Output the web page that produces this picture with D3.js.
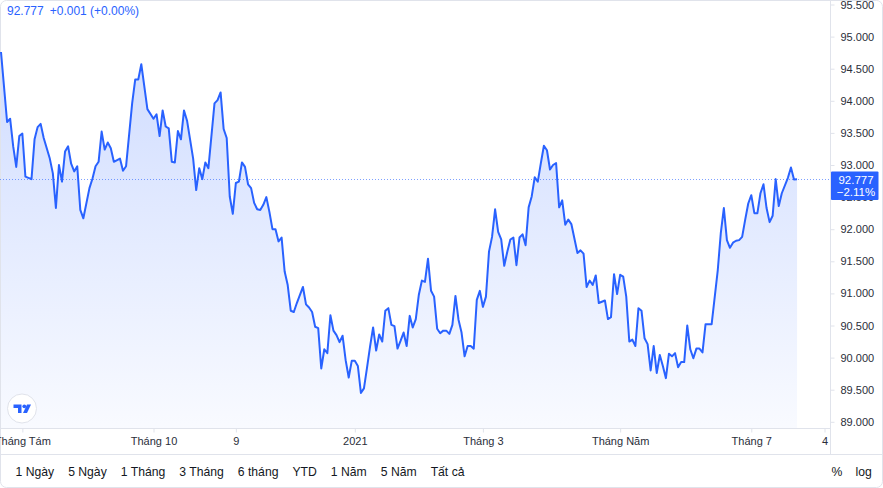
<!DOCTYPE html>
<html>
<head>
<meta charset="utf-8">
<script src="https://cdn.jsdelivr.net/npm/d3@7"></script>
<style>
  html, body { margin: 0; padding: 0; background: #ffffff; }
  svg { display: block; font-family: "Liberation Sans", Arial, sans-serif; }
</style>
</head>
<body>
<svg id="chart" width="883" height="488"></svg>
<script>
// ---- data (trading-day index, close value) ----
const days = [0,2,3,4,5,6,7,8,10,11,12,13,14,16,17,18,19,20,21,22,23,24,25,26,27,29,30,31,32,33,34,35,36,37,39,40,41,43,44,45,46,48,50,51,52,53,54,55,56,57,58,59,60,61,63,64,65,66,67,68,70,71,72,73,74,75,76,77,78,79,80,81,82,83,84,85,86,87,88,89,90,91,92,93,94,95,96,97,99,100,101,102,103,104,105,106,107,108,109,110,111,112,113,114,115,116,117,118,119,120,121,122,123,124,125,126,127,128,129,130,131,132,133,134,135,136,137,138,139,140,141,142,143,144,145,146,147,148,149,150,151,152,153,154,155,156,157,158,159,160,161,162,163,164,165,166,167,168,169,170,171,172,173,174,175,176,177,178,179,180,181,182,183,184,185,186,187,189,190,191,192,193,194,195,196,198,199,200,201,202,203,204,205,206,207,208,209,210,211,212,213,214,215,216,217,218,219,220,221,222,223,224,225,226,227,228,229,230,231,233,235,236,237,238,239,240,241,242,243,244,245,246,247,248,249,250,251,252,253,254,255,256,258,259,260,261];
const values = [94.76,93.67,93.72,93.29,92.97,93.45,93.49,92.82,92.78,93.40,93.59,93.64,93.42,93.10,92.87,92.33,93.00,92.74,93.21,93.29,93.02,92.90,92.98,92.30,92.17,92.64,92.79,92.98,93.05,93.52,93.24,93.35,93.26,93.05,93.10,92.91,92.98,93.96,94.33,94.33,94.57,93.87,93.72,93.79,93.45,93.85,93.60,93.57,93.05,93.04,93.53,93.40,93.85,93.69,93.10,92.61,92.95,92.78,93.04,92.95,93.96,94.01,94.13,93.56,93.42,92.51,92.24,92.72,92.74,93.04,92.97,92.70,92.64,92.41,92.31,92.30,92.38,92.50,92.27,92.00,92.00,91.81,91.87,91.34,91.13,90.73,90.71,90.85,91.10,90.83,90.78,90.71,90.48,90.46,89.83,90.13,90.07,90.66,90.42,90.35,90.24,90.34,89.96,89.69,89.95,89.95,89.87,89.45,89.52,89.84,90.17,90.47,90.11,90.36,90.25,90.73,90.77,90.51,90.49,90.14,90.26,90.39,90.18,90.65,90.47,90.60,90.98,91.20,91.18,91.54,91.04,90.95,90.45,90.38,90.42,90.42,90.37,90.51,90.96,90.59,90.39,90.02,90.18,90.18,90.14,90.90,91.04,90.79,90.95,91.65,91.88,92.31,91.96,91.84,91.43,91.65,91.84,91.87,91.44,91.87,91.92,91.75,92.34,92.51,92.81,92.74,93.03,93.30,93.23,92.93,93.00,93.03,92.34,92.45,92.07,92.15,92.08,91.63,91.67,91.62,91.10,91.20,91.13,91.28,90.85,90.89,90.60,90.63,91.30,90.99,91.29,91.26,90.95,90.25,90.28,90.18,90.77,90.73,90.30,90.21,89.80,90.18,89.76,90.04,89.87,89.68,90.06,90.02,90.07,89.85,89.93,89.93,90.50,90.13,89.99,90.14,90.14,90.08,90.52,90.52,91.36,91.94,92.33,91.83,91.71,91.79,91.82,91.83,91.88,92.15,92.40,92.53,92.25,92.25,92.56,92.70,92.33,92.11,92.21,92.78,92.36,92.56,92.80,92.96,92.776,92.777];

const timeTickDays = [7, 50, 77, 116, 158, 203, 246, 270];
const timeTickLabels = ["Tháng Tám", "Tháng 10", "9", "2021", "Tháng 3", "Tháng Năm", "Tháng 7", "4"];
const priceTicks = [89.0, 89.5, 90.0, 90.5, 91.0, 91.5, 92.0, 92.5, 93.0, 93.5, 94.0, 94.5, 95.0, 95.5];

const lastValue = 92.777;
const legendValue = "92.777";
const legendChange = "+0.001 (+0.00%)";
const lastPctLabel = "\u22122.11%";
const rangeButtons = ["1 Ngày", "5 Ngày", "1 Tháng", "3 Tháng", "6 tháng", "YTD", "1 Năm", "5 Năm", "Tất cả"];
const rightButtons = ["%", "log"];

// ---- layout ----
const W = 883, H = 488;
const plotRight = 830, plotBottom = 428.5, toolbarTop = 454.5;
const blue = "#2962ff";
const gridColor = "#e0e3eb";
const textColor = "#131722";

const svg = d3.select("#chart");

const x = d3.scaleLinear().domain([0, 261]).range([1, 797.05]);
const y = d3.scaleLinear().domain([89, 95.5]).range([421.8, 4.5]);

const data = days.map((d, i) => ({ d, v: values[i] }));

// defs
const defs = svg.append("defs");
defs.append("clipPath").attr("id", "plotClip")
  .append("rect").attr("x", 0).attr("y", 0).attr("width", plotRight).attr("height", plotBottom);
const grad = defs.append("linearGradient").attr("id", "areaGrad")
  .attr("gradientUnits", "userSpaceOnUse")
  .attr("x1", 0).attr("y1", 50).attr("x2", 0).attr("y2", plotBottom);
grad.append("stop").attr("offset", "0%").attr("stop-color", blue).attr("stop-opacity", 0.22);
grad.append("stop").attr("offset", "100%").attr("stop-color", blue).attr("stop-opacity", 0.03);

// outer frame
svg.append("rect").attr("x", 0.5).attr("y", 0.5).attr("width", W - 1).attr("height", H - 1)
  .attr("rx", 6).attr("fill", "#ffffff").attr("stroke", gridColor);

const plot = svg.append("g").attr("clip-path", "url(#plotClip)");

// area + line
plot.append("path").datum(data)
  .attr("fill", "url(#areaGrad)")
  .attr("d", d3.area().x(p => x(p.d)).y0(plotBottom).y1(p => y(p.v)));
plot.append("path").datum(data)
  .attr("fill", "none").attr("stroke", blue).attr("stroke-width", 2)
  .attr("stroke-linejoin", "round")
  .attr("d", d3.line().x(p => x(p.d)).y(p => y(p.v)));

// last price dotted line
plot.append("line")
  .attr("x1", 0).attr("x2", plotRight)
  .attr("y1", Math.round(y(lastValue)) + 0.5).attr("y2", Math.round(y(lastValue)) + 0.5)
  .attr("stroke", blue).attr("stroke-opacity", 0.6).attr("stroke-width", 1)
  .attr("stroke-dasharray", "1,2");

// time axis
const xAxis = d3.axisBottom(x).tickValues(timeTickDays)
  .tickFormat((d, i) => timeTickLabels[i]).tickSize(4).tickPadding(5).tickSizeOuter(0);
const gx = svg.append("g").attr("transform", `translate(0,${plotBottom})`).call(xAxis);
gx.select(".domain").attr("d", `M0,0H${plotRight}`).attr("stroke", gridColor);
gx.selectAll(".tick line").attr("stroke", gridColor);
gx.selectAll(".tick text").attr("fill", "#2a2e39").attr("font-size", 11)
  .attr("font-family", "'Liberation Sans', Arial, sans-serif");

// price axis
const yAxis = d3.axisRight(y).tickValues(priceTicks).tickFormat(d3.format(".3f"))
  .tickSize(4).tickPadding(6).tickSizeOuter(0);
const gy = svg.append("g").attr("transform", `translate(${plotRight + 0.5},0)`).call(yAxis);
gy.select(".domain").attr("d", `M0,0V${toolbarTop}`).attr("stroke", gridColor);
gy.selectAll(".tick line").attr("stroke", gridColor);
gy.selectAll(".tick text").attr("fill", "#2a2e39").attr("font-size", 11)
  .attr("font-family", "'Liberation Sans', Arial, sans-serif");

// last price label on the price axis
const yl = y(lastValue);
const lab = svg.append("g");
lab.append("rect").attr("x", plotRight + 1).attr("y", yl - 7.7).attr("width", 47.5).attr("height", 28.5)
  .attr("rx", 1).attr("fill", blue);
lab.append("text").attr("x", 856).attr("y", yl + 4.5).attr("text-anchor", "middle")
  .attr("fill", "#ffffff").attr("font-size", 11.5).text(lastValue.toFixed(3));
lab.append("text").attr("x", 856).attr("y", yl + 16.5).attr("text-anchor", "middle")
  .attr("fill", "#ffffff").attr("font-size", 11.5).text(lastPctLabel);

// legend
const lg = svg.append("text").attr("x", 7).attr("y", 15).attr("font-size", 12).attr("fill", blue);
lg.append("tspan").text(legendValue);
lg.append("tspan").attr("dx", 6).text(legendChange);

// TradingView logo badge
const logo = svg.append("g");
logo.append("circle").attr("cx", 22).attr("cy", 408.5).attr("r", 14.5)
  .attr("fill", "#ffffff").attr("stroke", gridColor);
logo.append("path").attr("fill", blue)
  .attr("d", "M13.5,404.5H21.5V413H18V408H13.5Z");
logo.append("circle").attr("cx", 24.3).attr("cy", 406.3).attr("r", 1.9).attr("fill", blue);
logo.append("path").attr("fill", blue).attr("d", "M27,404.5H31L27,413H23Z");

// toolbar separator
svg.append("line").attr("x1", 0).attr("x2", W).attr("y1", toolbarTop).attr("y2", toolbarTop)
  .attr("stroke", gridColor);

// range buttons
let bx = 15.5;
rangeButtons.forEach(lbl => {
  const t = svg.append("text").attr("x", bx).attr("y", 476).attr("font-size", 12.2)
    .attr("fill", textColor).text(lbl);
  bx += t.node().getComputedTextLength() + 14;
});
svg.append("text").attr("x", 831.5).attr("y", 476).attr("font-size", 12.2).attr("fill", textColor).text(rightButtons[0]);
svg.append("text").attr("x", 855.5).attr("y", 476).attr("font-size", 12.2).attr("fill", textColor).text(rightButtons[1]);
</script>
</body>
</html>
